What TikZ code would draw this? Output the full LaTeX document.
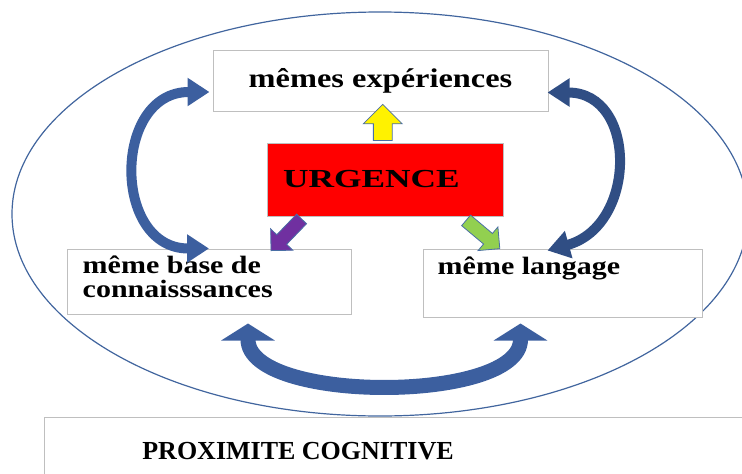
\documentclass[tikz,border=0pt]{standalone}
\usepackage{fontspec}
\setmainfont{Liberation Serif}
\newfontfamily\boxfont{Liberation Serif}[FakeStretch=1.2]
\newfontfamily\urgfont{Liberation Serif}[FakeStretch=1.36]
\usepackage{tikz}
\usetikzlibrary{shapes.geometric,shapes.arrows,arrows.meta,positioning,calc}
\definecolor{Frame}{HTML}{BFBFBF}
\definecolor{Ring}{HTML}{41659E}
\definecolor{ArcLight}{HTML}{3C5F9F}
\definecolor{ArcDark}{HTML}{304E84}
\definecolor{Urgent}{HTML}{FF0000}
\definecolor{Plum}{HTML}{7030A0}
\definecolor{Leaf}{HTML}{92D050}
\definecolor{Outline}{HTML}{4A6FA5}
\tikzset{
    % plain white boxes, thin grey frame
    casebox/.style={
        rectangle,
        draw=Frame,
        fill=white,
        line width=1pt,
        inner sep=0pt
    },
    casetext/.style={
        inner sep=0pt,
        align=left,
        font=\boxfont\bfseries\fontsize{25}{24}\selectfont
    },
    urgentbox/.style={
        rectangle,
        draw=Frame,
        fill=Urgent,
        line width=0.6pt,
        inner xsep=16pt,
        inner ysep=0pt,
        text width=204pt,
        minimum height=73pt,
        align=left,
        font=\urgfont\bfseries\fontsize{26}{30}\selectfont
    },
    blockarrow/.style={
        single arrow,
        draw=Outline,
        line width=0.8pt,
        inner xsep=0pt,
        single arrow head indent=0pt
    },
    arcarrow/.style={
        line width=10pt,
        {Triangle[width=27pt,length=22pt]}-{Triangle[width=27pt,length=22pt]}
    },
    bigarc/.style={
        line width=15pt,
        {Triangle[width=53pt,length=17pt]}-{Triangle[width=53pt,length=17pt]}
    }
}
\begin{document}
\begin{tikzpicture}[x=1pt, y=-1pt]
    \useasboundingbox (0,0) rectangle (742,474);

    \node[draw=Ring, line width=1.2pt, ellipse, inner sep=0pt,
          minimum width=736pt, minimum height=404pt] (ring) at (380,214) {};

    \node[casebox, minimum width=335pt, minimum height=61pt,
          font=\boxfont\bfseries\fontsize{27}{30}\selectfont] (exp) at (380.5,80.5) {mêmes expériences};
    \node[urgentbox] (urg) at (385,179.5) {URGENCE};
    \node[casebox, minimum width=284pt, minimum height=65pt] (kb) at (209,281.5) {};
    \node[casebox, minimum width=279pt, minimum height=68pt] (lang) at (562.5,283) {};
    \node[casebox, minimum width=720pt, minimum height=80pt, anchor=north west] (prox) at (44,417) {};

    \node[casetext, anchor=base west] (kbtext) at ($(kb.north west)+(16,49)$) {même base de\\connaisssances};
    \node[casetext, anchor=base west] (langtext) at ($(lang.north west)+(15,26)$) {même langage};
    \node[inner sep=0pt, anchor=base, font=\bfseries\fontsize{26}{30}\selectfont]
        (proxtext) at ($(prox.north west)+(254,42)$) {PROXIMITE COGNITIVE};

    % straight arrows out of the red box
    \node[blockarrow, fill=yellow, rotate=90, inner ysep=9pt, minimum width=38pt,
          single arrow head extend=10pt, minimum height=36pt] (up) at ($(urg.north)!0.5!(exp.south)$) {};
    \node[blockarrow, fill=Plum, rotate=226, inner ysep=6.5pt, minimum width=30pt,
          single arrow head extend=8.5pt, minimum height=44pt] (left) at ($(urg.south west)+(22,16)$) {};
    \node[blockarrow, fill=Leaf, rotate=-40, inner ysep=6.5pt, minimum width=30pt,
          single arrow head extend=8.5pt, minimum height=44pt] (right) at ($(urg.south east)+(-23,16)$) {};

    % curved arrows between the boxes
    \draw[arcarrow, ArcLight] ($(exp.west)+(-3,11.5)$) .. controls +(-97,0) and +(-97,0) .. (kb.north);
    \draw[arcarrow, ArcDark] ($(exp.east)+(-1,12)$) .. controls +(90,0) and +(90,-25) .. ($(lang.north)+(-15,2)$);
    \draw[bigarc, ArcLight] ($(kb.south)+(39,9)$) .. controls +(0,80) and +(0,80) .. ($(lang.south)+(-42,6)$);
\end{tikzpicture}
\end{document}
